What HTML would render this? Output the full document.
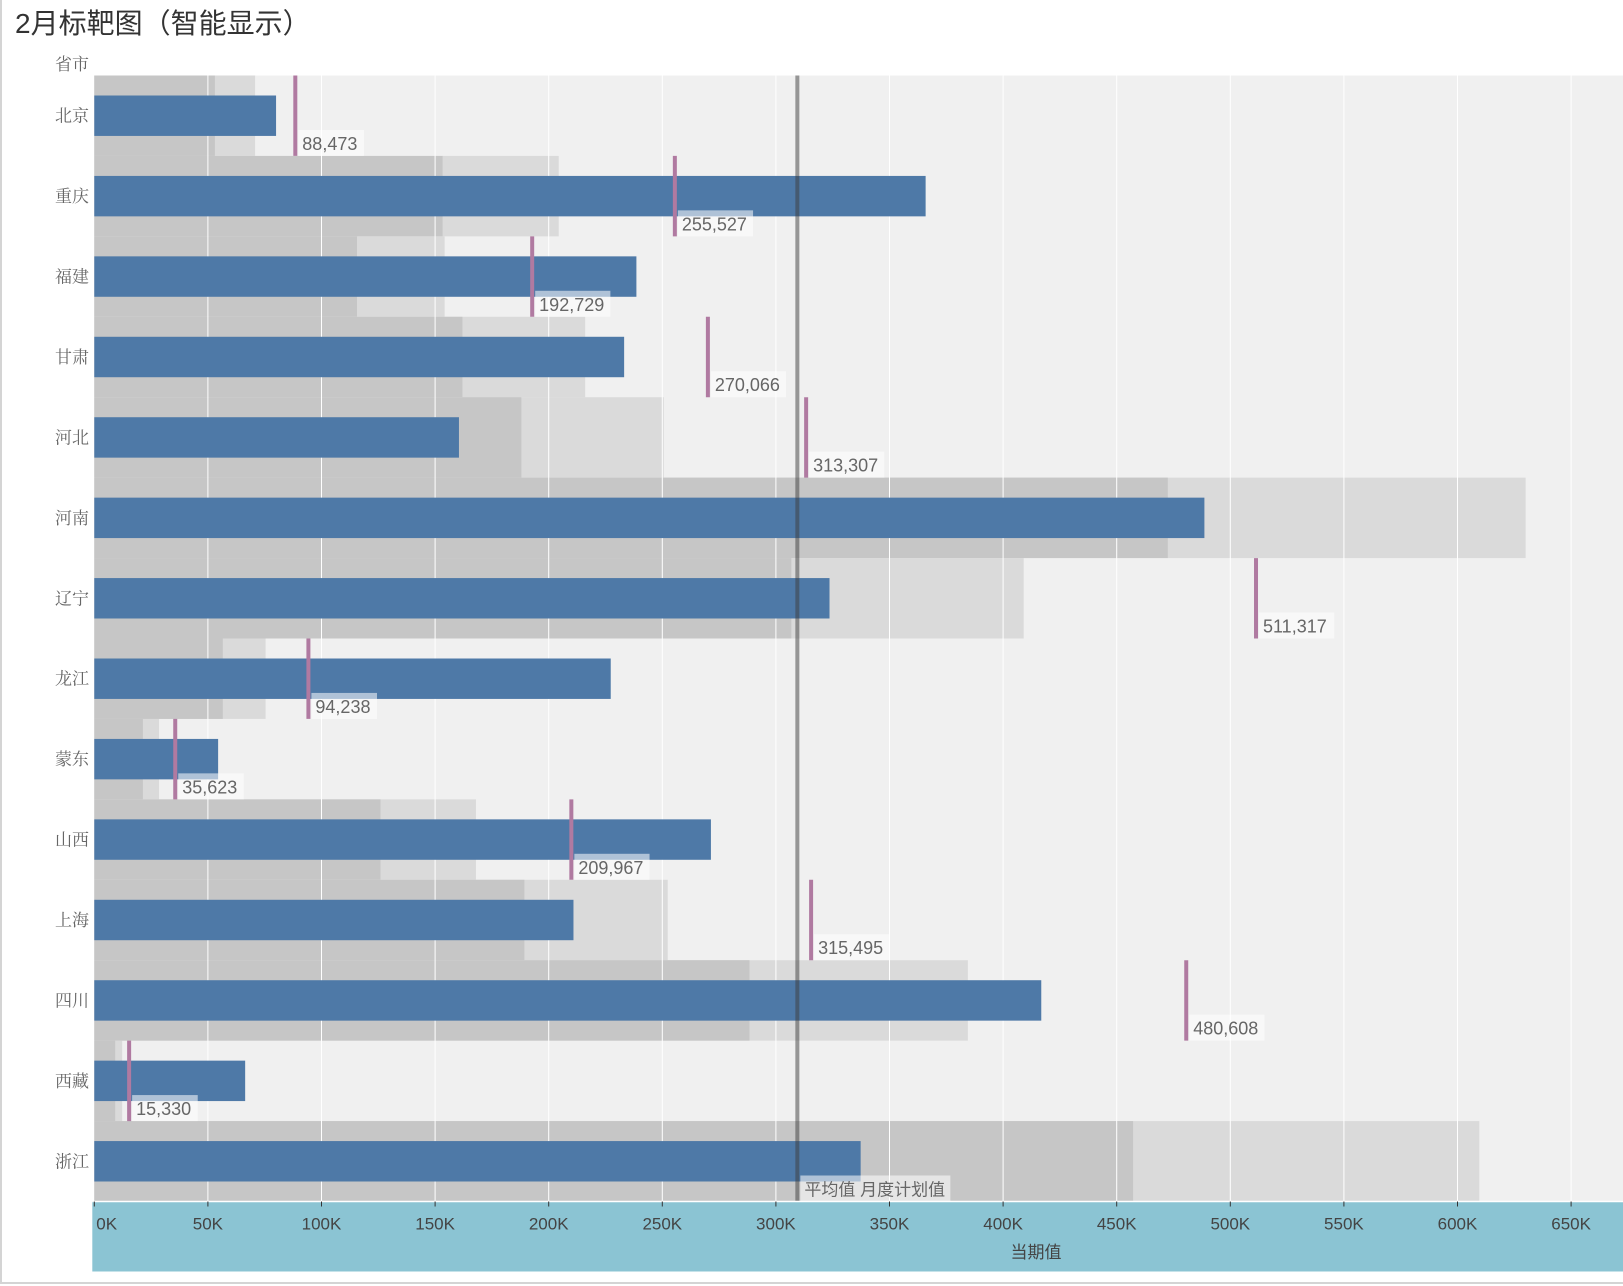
<!DOCTYPE html>
<html><head><meta charset="utf-8">
<style>
html,body{margin:0;padding:0;background:#fff;}
#wrap{position:relative;width:1623px;height:1286px;overflow:hidden;font-family:"Liberation Sans","Noto Sans CJK SC",sans-serif;}
</style></head>
<body>
<div id="wrap">
<svg id="chart" width="1623" height="1286" xmlns="http://www.w3.org/2000/svg">
  <rect x="1" y="-2" width="1630" height="1285" fill="none" stroke="#d4d4d4" stroke-width="2"/>
  <text x="15" y="33" font-size="28" fill="#333" font-family="Liberation Sans, Noto Sans CJK SC, sans-serif">2月标靶图（智能显示）</text>
  <text x="89" y="70" font-size="17" fill="#666" text-anchor="end" font-family="Liberation Serif, Noto Serif CJK SC, serif">省市</text>
  <g id="plot"></g>
</svg>
</div>
<script>
const provinces = ["北京","重庆","福建","甘肃","河北","河南","辽宁","龙江","蒙东","山西","上海","四川","西藏","浙江"];
const actual = [80000,365900,238600,233200,160500,488600,323600,227300,54500,271400,210900,416800,66400,337300];
const target = [88473,255527,192729,270066,313307,787500,511317,94238,35623,209967,315495,480608,15330,762000];
const ticks = [0,50000,100000,150000,200000,250000,300000,350000,400000,450000,500000,550000,600000,650000];
const tickLabels = ["0K","50K","100K","150K","200K","250K","300K","350K","400K","450K","500K","550K","600K","650K"];

const NS = "http://www.w3.org/2000/svg";
const svg = document.getElementById("chart");
const plot = document.getElementById("plot");
const X0 = 94.3, XR = 1623, PX_PER = 113.6/50000;
const TOP = 75.5, BOT = 1201.5;
const rowH = (BOT - TOP) / provinces.length;
function x(v){ return X0 + v * PX_PER; }
function y(i){ return TOP + i * rowH; }
function mk(tag, attrs, parent){
  const e = document.createElementNS(NS, tag);
  for (const k in attrs) e.setAttribute(k, attrs[k]);
  (parent || plot).appendChild(e);
  return e;
}
let bg = mk("rect",{x:X0,y:TOP,width:XR-X0,height:BOT-TOP,fill:"#f0f0f0"});


provinces.forEach((p,i)=>{
  const t = target[i];
  let b2 = mk("rect",{x:X0,y:y(i),width:Math.min(x(t*0.8),XR)-X0,height:rowH,fill:"#dadada"});
  
  
  let b1 = mk("rect",{x:X0,y:y(i),width:Math.min(x(t*0.6),XR)-X0,height:rowH,fill:"#c6c6c6"});
  
  
});
ticks.forEach((t,k)=>{
  if(k===0) return;
  let g = mk("line",{x1:x(t),x2:x(t),y1:TOP,y2:BOT,stroke:"#ffffff","stroke-width":1});
  
  
});
provinces.forEach((p,i)=>{
  let bar = mk("rect",{x:X0,y:y(i)+20,width:x(actual[i])-X0,height:rowH-40,fill:"#4e79a7"});
  
  
  let lab = mk("text",{x:89,y:y(i)+rowH/2+6,"font-size":17,fill:"#666","text-anchor":"end","font-family":"Liberation Serif, Noto Serif CJK SC, serif"},svg);
  lab.textContent = p;
  
  
});
const avg = target.reduce((a,b)=>a+b,0)/target.length;
let ref = mk("line",{x1:x(avg),x2:x(avg),y1:TOP,y2:BOT,stroke:"rgba(60,60,60,0.5)","stroke-width":4});


provinces.forEach((p,i)=>{
  const tx = x(target[i]);
  if (tx > XR) return;
  let tl = mk("line",{x1:tx,x2:tx,y1:y(i),y2:y(i)+rowH,stroke:"#b07aa1","stroke-width":4});
  
  
  const txt = target[i].toLocaleString("en-US");
  const w = txt.length*9.6 + 8;
  let box = mk("rect",{x:tx+3,y:y(i)+rowH-26,width:w,height:26,fill:"rgba(255,255,255,0.55)"});
  
  
  let tt = mk("text",{x:tx+7,y:y(i)+rowH-6,"font-size":18,fill:"#666"});
  tt.textContent = txt;
  
  
});
let rb = mk("rect",{x:x(avg)+3,y:BOT-26,width:150,height:26,fill:"rgba(255,255,255,0.55)"});


let rt = mk("text",{x:x(avg)+7,y:BOT-6,"font-size":17,fill:"#666"});
rt.textContent = "平均值 月度计划值";


let ax = mk("rect",{x:X0-2,y:BOT,width:XR-X0+2,height:1271.5-BOT,fill:"#8bc4d3"});


let axl = mk("line",{x1:X0-2,x2:XR,y1:BOT,y2:BOT,stroke:"#fff","stroke-width":1.5});


ticks.forEach((t,k)=>{
  let tm = mk("line",{x1:x(t),x2:x(t),y1:BOT,y2:BOT+5,stroke:"#333","stroke-width":1});
  
  
  let tl = mk("text",{x:k===0?x(t)+2:x(t),y:BOT+28,"font-size":17,fill:"#444","text-anchor":k===0?"start":"middle"});
  tl.textContent = tickLabels[k];
  
  
});
let at = mk("text",{x:1036,y:1258,"font-size":17,fill:"#444","text-anchor":"middle"});
at.textContent = "当期值";


</script>
</body></html>
